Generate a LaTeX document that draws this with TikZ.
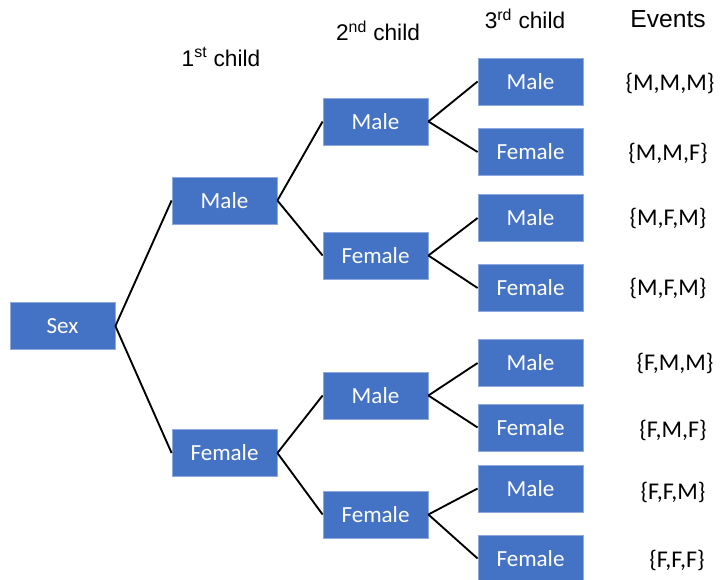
\documentclass[tikz,border=0pt]{standalone}
\usepackage{fontspec}
\setmainfont{Carlito}
\newfontfamily\headfont{Liberation Sans}
\definecolor{boxblue}{HTML}{4472C4}
\definecolor{boxline}{HTML}{8EA9DB}

\begin{document}
\begin{tikzpicture}[x=0.75pt,y=0.75pt,yscale=-1,xscale=1,
	box/.style={draw=boxline,line width=0.6pt,fill=boxblue,text=white,minimum width=78.75pt,minimum height=35.25pt,inner sep=0pt,font=\fontsize{17.3}{20}\selectfont},
	event/.style={inner sep=0.75pt,font=\fontsize{18}{21}\selectfont},
	head/.style={inner sep=0.75pt,font=\headfont\fontsize{17}{20}\selectfont},
	link/.style={line width=1.4pt}]
		\useasboundingbox (0,0) rectangle (721,579);
		% column headers
		\node [head] (h1) at (221,57) {1\textsuperscript{st} child};
		\node [head] (h2) at (378,31) {2\textsuperscript{nd} child};
		\node [head] (h3) at (525,19) {3\textsuperscript{rd} child};
		\node [head,font=\headfont\fontsize{18.5}{21}\selectfont] (hev) at (668,19) {Events};
		% root and 1st child
		\node [box] (sex) at (62.5,326) {Sex};
		\node [box] (m) at (224.5,200.5) {Male};
		\node [box] (f) at (224.5,453) {Female};
		% 2nd child
		\node [box] (mm) at (375.5,121.5) {Male};
		\node [box] (mf) at (375.5,255.5) {Female};
		\node [box] (fm) at (375.5,395.5) {Male};
		\node [box] (ff) at (375.5,514.5) {Female};
		% 3rd child
		\node [box] (mmm) at (530.5,81.5) {Male};
		\node [box] (mmf) at (530.5,152) {Female};
		\node [box] (mfm) at (530.5,218) {Male};
		\node [box] (mff) at (530.5,288) {Female};
		\node [box] (fmm) at (530.5,363) {Male};
		\node [box] (fmf) at (530.5,427.5) {Female};
		\node [box] (ffm) at (530.5,488.5) {Male};
		\node [box] (fff) at (530.5,558.5) {Female};
		% events
		\node [event] (emmm) at (670,83) {\{M,M,M\}};
		\node [event] (emmf) at (668,153) {\{M,M,F\}};
		\node [event] (emfm) at (668,218) {\{M,F,M\}};
		\node [event] (emff) at (668,288) {\{M,F,M\}};
		\node [event] (efmm) at (675,363) {\{F,M,M\}};
		\node [event] (efmf) at (673,430) {\{F,M,F\}};
		\node [event] (effm) at (673,492) {\{F,F,M\}};
		\node [event] (efff) at (677,560) {\{F,F,F\}};
		% branches
		\draw [link] (sex.east) -- (m.west);
		\draw [link] (sex.east) -- (f.west);
		\draw [link] (m.east) -- (mm.west);
		\draw [link] (m.east) -- (mf.west);
		\draw [link] (f.east) -- (fm.west);
		\draw [link] (f.east) -- (ff.west);
		\draw [link] (mm.east) -- (mmm.west);
		\draw [link] (mm.east) -- (mmf.west);
		\draw [link] (mf.east) -- (mfm.west);
		\draw [link] (mf.east) -- (mff.west);
		\draw [link] (fm.east) -- (fmm.west);
		\draw [link] (fm.east) -- (fmf.west);
		\draw [link] (ff.east) -- (ffm.west);
		\draw [link] (ff.east) -- (fff.west);
\end{tikzpicture}
\end{document}
